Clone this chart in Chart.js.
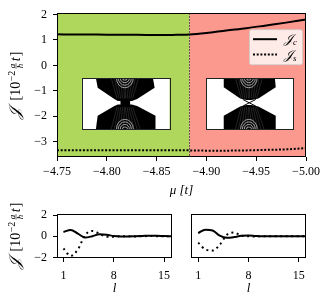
<!DOCTYPE html>
<html>
<head>
<meta charset="utf-8">
<script src="https://cdn.jsdelivr.net/npm/chart.js@4.4.1/dist/chart.umd.min.js"></script>
<style>
  html, body { margin: 0; padding: 0; background: #fff; }
  #wrap { position: relative; width: 331px; height: 306px; overflow: hidden; }
  canvas { position: absolute; }
</style>
</head>
<body>
<div id="wrap">
  <canvas id="mainChart" width="331" height="200" style="left:0;top:0"></canvas>
  <canvas id="leftChart" width="180" height="106" style="left:0;top:200px"></canvas>
  <canvas id="rightChart" width="151" height="106" style="left:180px;top:200px"></canvas>
</div>
<script>
// chemical potential sweep (top panel)
const muValues = [-4.75, -4.77, -4.79, -4.81, -4.83, -4.85, -4.87, -4.883, -4.90, -4.92, -4.94, -4.96, -4.98, -5.00];
const chargeCurrent = [1.22, 1.21, 1.21, 1.20, 1.20, 1.19, 1.20, 1.21, 1.27, 1.37, 1.46, 1.57, 1.68, 1.80];
const spinCurrent = [-3.33, -3.33, -3.33, -3.33, -3.33, -3.33, -3.33, -3.34, -3.35, -3.35, -3.34, -3.32, -3.30, -3.25];
const muTicks = [-4.75, -4.80, -4.85, -4.90, -4.95, -5.00];
const mainYTicks = [-3, -2, -1, 0, 1, 2];
const phaseBoundary = -4.883;

// layer resolved currents (bottom panels)
const layers = [1, 2, 3, 4, 5, 6, 7, 8, 9, 10, 11, 12, 13, 14, 15, 16];
const leftCharge = [0.40, 0.60, 0.25, -0.12, 0.00, 0.18, 0.15, 0.02, -0.02, -0.02, 0.00, 0.03, 0.06, 0.05, 0.02, 0.00];
const leftSpin = [-1.15, -1.85, -1.25, 0.10, 0.50, 0.25, -0.05, -0.05, 0.00, 0.00, -0.02, 0.00, 0.02, 0.00, 0.00, 0.00];
const rightCharge = [0.30, 0.62, 0.55, 0.05, -0.15, -0.08, 0.05, 0.08, 0.03, 0.00, 0.00, 0.00, 0.00, 0.00, 0.00, 0.00];
const rightSpin = [-0.60, -1.25, -1.35, -0.80, 0.15, 0.35, 0.05, 0.00, -0.02, 0.00, 0.00, 0.00, 0.00, 0.00, 0.00, 0.00];
const layerTicks = [1, 8, 15];
const layerYTicks = [-2, 0, 2];

const SCRIPT_J = "\u{1D4A5}";
const serif = "'Liberation Serif', 'DejaVu Serif', serif";
const greenFill = "#aed75b";
const redFill = "#fb998e";

Chart.defaults.font.family = serif;
Chart.defaults.color = "#000";
Chart.defaults.animation = false;

function minusSign(text) {
  return String(text).replace("-", "\u2212");
}

function pairs(xs, ys) {
  return xs.map((x, i) => ({ x: x, y: ys[i] }));
}

function drawCurrentTitle(ctx, cx, cy) {
  const parts = [
    { text: SCRIPT_J, font: "italic 16px " + serif, gap: 7 },
    { text: "[10", font: "14px " + serif, gap: 0.5 },
    { text: "\u22122", font: "10px " + serif, dy: -5.5, gap: 2 },
    { frac: ["a", "\u0127"], font: "italic 9px " + serif, gap: 2 },
    { text: "t", font: "italic 14px " + serif, gap: 1 },
    { text: "]", font: "14px " + serif, gap: 0 }
  ];

  ctx.save();
  let total = 0;
  parts.forEach(p => {
    ctx.font = p.font;
    p.w = p.frac
      ? Math.max(ctx.measureText(p.frac[0]).width, ctx.measureText(p.frac[1]).width) + 1
      : ctx.measureText(p.text).width;
    total += p.w + p.gap;
  });

  ctx.translate(cx, cy);
  ctx.rotate(-Math.PI / 2);
  ctx.fillStyle = "#000";
  ctx.strokeStyle = "#000";
  ctx.textBaseline = "alphabetic";
  ctx.textAlign = "left";

  const base = 5;
  let x = -total / 2;
  parts.forEach(p => {
    ctx.font = p.font;
    if (p.frac) {
      const bar = base - 4;
      ctx.textAlign = "center";
      ctx.fillText(p.frac[0], x + p.w / 2, bar - 1.3);
      ctx.fillText(p.frac[1], x + p.w / 2, bar + 7.2);
      ctx.lineWidth = 0.6;
      ctx.beginPath();
      ctx.moveTo(x, bar);
      ctx.lineTo(x + p.w, bar);
      ctx.stroke();
      ctx.textAlign = "left";
    } else {
      ctx.fillText(p.text, x, base + (p.dy || 0));
    }
    x += p.w + p.gap;
  });
  ctx.restore();
}

const framePlugin = {
  id: "frame",
  afterDraw(chart) {
    const { ctx, chartArea: a } = chart;
    ctx.save();
    ctx.strokeStyle = "#000";
    ctx.lineWidth = 1;
    ctx.strokeRect(Math.round(a.left) + 0.5, Math.round(a.top) + 0.5,
      Math.round(a.width) - 1, Math.round(a.height) - 1);
    ctx.restore();
  }
};

const titlePlugin = {
  id: "currentTitle",
  afterDraw(chart, args, opts) {
    if (!opts.show) {
      return;
    }
    const a = chart.chartArea;
    drawCurrentTitle(chart.ctx, 15, (a.top + a.bottom) / 2);
  }
};

const phasePlugin = {
  id: "phases",
  beforeDatasetsDraw(chart) {
    const { ctx, chartArea: a, scales: { x } } = chart;
    const xb = x.getPixelForValue(phaseBoundary);

    ctx.save();
    ctx.fillStyle = greenFill;
    ctx.fillRect(a.left, a.top, xb - a.left, a.height);
    ctx.fillStyle = redFill;
    ctx.fillRect(xb, a.top, a.right - xb, a.height);

    ctx.strokeStyle = "#333";
    ctx.lineWidth = 1;
    ctx.setLineDash([1.5, 1.5]);
    ctx.beginPath();
    ctx.moveTo(Math.round(xb) + 0.5, a.top);
    ctx.lineTo(Math.round(xb) + 0.5, a.bottom);
    ctx.stroke();
    ctx.restore();
  }
};

// inset band structures, placed in data units
const insets = [
  { mu0: -4.775, mu1: -4.863, y0: -0.5, y1: -2.5, crossing: false },
  { mu0: -4.900, mu1: -4.987, y0: -0.5, y1: -2.5, crossing: true }
];

function drawBands(ctx, r, crossing) {
  const P = (u, v) => [r.l + u * r.w, r.t + v * r.h];
  const fillPoly = pts => {
    ctx.beginPath();
    pts.forEach((p, i) => {
      const q = P(p[0], p[1]);
      if (i === 0) ctx.moveTo(q[0], q[1]); else ctx.lineTo(q[0], q[1]);
    });
    ctx.closePath();
    ctx.fill();
  };

  ctx.save();
  ctx.fillStyle = "#fff";
  ctx.fillRect(r.l, r.t, r.w, r.h);
  ctx.beginPath();
  ctx.rect(r.l, r.t, r.w, r.h);
  ctx.clip();

  ctx.fillStyle = "#000";
  if (crossing) {
    fillPoly([[0.2, 0], [0.79, 0], [0.8, 0.18], [0.6, 0.4], [0.52, 0.43], [0.46, 0.43], [0.39, 0.4], [0.2, 0.18]]);
    fillPoly([[0.2, 1], [0.8, 1], [0.8, 0.74], [0.6, 0.56], [0.52, 0.53], [0.46, 0.53], [0.39, 0.56], [0.2, 0.74]]);
    ctx.strokeStyle = "#000";
    ctx.lineWidth = 1;
    ctx.beginPath();
    const a1 = P(0.42, 0.42), a2 = P(0.57, 0.55), b1 = P(0.57, 0.42), b2 = P(0.42, 0.55);
    ctx.moveTo(a1[0], a1[1]); ctx.lineTo(a2[0], a2[1]);
    ctx.moveTo(b1[0], b1[1]); ctx.lineTo(b2[0], b2[1]);
    ctx.stroke();
  } else {
    fillPoly([[0.16, 0], [0.81, 0], [0.83, 0.19], [0.63, 0.41], [0.57, 0.45], [0.41, 0.45], [0.37, 0.41], [0.18, 0.19]]);
    fillPoly([[0.16, 1], [0.84, 1], [0.84, 0.74], [0.63, 0.55], [0.57, 0.52], [0.41, 0.52], [0.37, 0.55], [0.18, 0.74]]);
    fillPoly([[0.44, 0.44], [0.55, 0.44], [0.55, 0.53], [0.44, 0.53]]);
  }

  // faint stripe pattern inside the bands
  ctx.strokeStyle = "rgba(120,120,120,0.6)";
  ctx.lineWidth = 0.5;
  for (let k = 1; k < 6; k++) {
    const s = k * 0.035;
    const p1 = P(0.3 + s, 0), p2 = P(0.38 + s * 0.6, 0.4);
    const q1 = P(0.68 - s, 0), q2 = P(0.6 - s * 0.6, 0.4);
    const p3 = P(0.3 + s, 1), p4 = P(0.38 + s * 0.6, 0.57);
    const q3 = P(0.7 - s, 1), q4 = P(0.6 - s * 0.6, 0.57);
    ctx.beginPath();
    ctx.moveTo(p1[0], p1[1]); ctx.lineTo(p2[0], p2[1]);
    ctx.moveTo(q1[0], q1[1]); ctx.lineTo(q2[0], q2[1]);
    ctx.moveTo(p3[0], p3[1]); ctx.lineTo(p4[0], p4[1]);
    ctx.moveTo(q3[0], q3[1]); ctx.lineTo(q4[0], q4[1]);
    ctx.stroke();
  }

  // ring pattern near the band centres
  ctx.strokeStyle = "rgba(255,255,255,0.85)";
  ctx.lineWidth = 0.7;
  const c = P(0.49, 0);
  const cb = P(0.49, 1);
  for (let k = 0; k < 4; k++) {
    const rx = r.w * (0.03 + 0.022 * k);
    const ry = r.h * (0.04 + 0.05 * k);
    ctx.beginPath();
    ctx.ellipse(c[0], c[1], rx, ry, 0, 0, Math.PI);
    ctx.stroke();
    ctx.beginPath();
    ctx.ellipse(cb[0], cb[1], rx, ry, 0, Math.PI, 2 * Math.PI);
    ctx.stroke();
  }
  ctx.restore();

  ctx.save();
  ctx.strokeStyle = "#222";
  ctx.lineWidth = 1;
  ctx.strokeRect(Math.round(r.l) + 0.5, Math.round(r.t) + 0.5, Math.round(r.w), Math.round(r.h));
  ctx.restore();
}

const insetPlugin = {
  id: "insets",
  beforeDatasetsDraw(chart) {
    const { ctx, scales: { x, y } } = chart;
    insets.forEach(ins => {
      const l = x.getPixelForValue(ins.mu0);
      const rgt = x.getPixelForValue(ins.mu1);
      const t = y.getPixelForValue(ins.y0);
      const b = y.getPixelForValue(ins.y1);
      drawBands(ctx, { l: l, t: t, w: rgt - l, h: b - t }, ins.crossing);
    });
  }
};

const legendPlugin = {
  id: "currentLegend",
  afterDatasetsDraw(chart) {
    const { ctx, chartArea: a } = chart;
    const w = 53, h = 35;
    const left = a.right - 4 - w;
    const top = a.top + 16;

    ctx.save();
    ctx.fillStyle = "rgba(255,255,255,0.8)";
    ctx.strokeStyle = "rgba(204,204,204,0.8)";
    ctx.lineWidth = 1;
    ctx.beginPath();
    ctx.roundRect(left + 0.5, top + 0.5, w, h, 2);
    ctx.fill();
    ctx.stroke();

    chart.data.datasets.forEach((ds, i) => {
      const rowY = top + 10 + i * 15.3;
      ctx.strokeStyle = "#000";
      ctx.lineWidth = 2;
      ctx.lineCap = "butt";
      ctx.setLineDash(ds.borderDash || []);
      ctx.beginPath();
      ctx.moveTo(left + 4, rowY);
      ctx.lineTo(left + 28, rowY);
      ctx.stroke();
      ctx.setLineDash([]);

      const chars = Array.from(ds.label);
      ctx.fillStyle = "#000";
      ctx.textBaseline = "alphabetic";
      ctx.font = "italic 13px " + serif;
      ctx.fillText(chars[0], left + 35, rowY + 4);
      const jw = ctx.measureText(chars[0]).width;
      ctx.font = "italic 9px " + serif;
      ctx.fillText(chars.slice(1).join(""), left + 35 + jw, rowY + 6);
    });
    ctx.restore();
  }
};

function tickGrid() {
  return { drawOnChartArea: false, drawTicks: true, tickLength: 4, color: "#000", lineWidth: 1 };
}

function lineSet(label, data, dash) {
  return {
    label: label,
    data: data,
    borderColor: "#000",
    borderWidth: 2,
    borderDash: dash,
    borderCapStyle: "butt",
    pointRadius: 0,
    fill: false,
    cubicInterpolationMode: "monotone"
  };
}

new Chart(document.getElementById("mainChart"), {
  type: "line",
  data: {
    datasets: [
      lineSet(SCRIPT_J + "c", pairs(muValues, chargeCurrent), []),
      lineSet(SCRIPT_J + "s", pairs(muValues, spinCurrent), [2, 1.7])
    ]
  },
  options: {
    responsive: false,
    layout: { padding: { left: 0, right: 25, top: 13, bottom: 0 } },
    plugins: {
      legend: { display: false },
      tooltip: { enabled: false },
      currentTitle: { show: true }
    },
    scales: {
      x: {
        type: "linear",
        min: -5.00,
        max: -4.75,
        reverse: true,
        afterBuildTicks(scale) {
          scale.ticks = muTicks.map(v => ({ value: v }));
        },
        afterFit(scale) {
          scale.height = 43;
        },
        ticks: {
          font: { size: 12 },
          padding: 4,
          maxRotation: 0,
          callback: v => minusSign(Number(v).toFixed(2))
        },
        grid: tickGrid(),
        border: { display: false },
        title: {
          display: true,
          text: "\u03bc [t]",
          font: { size: 13, style: "italic" },
          padding: { top: 0, bottom: 2 }
        }
      },
      y: {
        min: -3.6,
        max: 2.05,
        afterBuildTicks(scale) {
          scale.ticks = mainYTicks.map(v => ({ value: v }));
        },
        afterFit(scale) {
          scale.width = 57;
        },
        ticks: {
          font: { size: 12 },
          padding: 6,
          callback: v => minusSign(v)
        },
        grid: tickGrid(),
        border: { display: false }
      }
    }
  },
  plugins: [phasePlugin, insetPlugin, legendPlugin, framePlugin, titlePlugin]
});

function layerChart(id, charge, spin, range, showY, padding) {
  return new Chart(document.getElementById(id), {
    type: "line",
    data: {
      datasets: [
        lineSet(SCRIPT_J + "c", pairs(layers, charge), []),
        lineSet(SCRIPT_J + "s", pairs(layers, spin), [2, 3.5])
      ]
    },
    options: {
      responsive: false,
      layout: { padding: padding },
      plugins: {
        legend: { display: false },
        tooltip: { enabled: false },
        currentTitle: { show: showY }
      },
      scales: {
        x: {
          type: "linear",
          min: range[0],
          max: range[1],
          afterBuildTicks(scale) {
            scale.ticks = layerTicks.map(v => ({ value: v }));
          },
          afterFit(scale) {
            scale.height = 48;
          },
          ticks: { font: { size: 12 }, padding: 7, maxRotation: 0 },
          grid: tickGrid(),
          border: { display: false },
          title: {
            display: true,
            text: "l",
            font: { size: 13, style: "italic" },
            padding: { top: 0, bottom: 10 }
          }
        },
        y: {
          display: showY,
          min: -2.05,
          max: 2.1,
          afterBuildTicks(scale) {
            scale.ticks = layerYTicks.map(v => ({ value: v }));
          },
          afterFit(scale) {
            scale.width = showY ? 57 : 0;
          },
          ticks: { font: { size: 12 }, padding: 6, callback: v => minusSign(v) },
          grid: tickGrid(),
          border: { display: false }
        }
      }
    },
    plugins: [framePlugin, titlePlugin]
  });
}

layerChart("leftChart", leftCharge, leftSpin, [0.1, 16.1], true, { left: 0, right: 8, top: 14, bottom: 0 });
layerChart("rightChart", rightCharge, rightSpin, [0, 16], false, { left: 11, right: 25, top: 14, bottom: 0 });
</script>
</body>
</html>
